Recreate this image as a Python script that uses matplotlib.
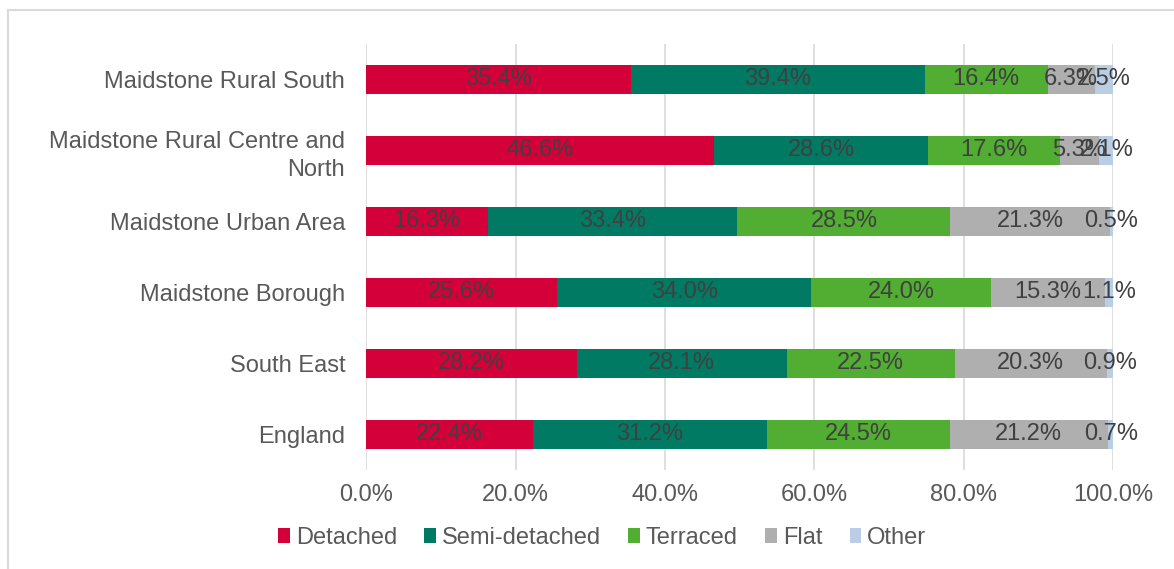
import numpy as np
import matplotlib.pyplot as plt
from matplotlib.patches import Rectangle

plt.rcParams['font.family'] = ['Liberation Sans', 'DejaVu Sans']

# Dwelling type shares (%) by area
areas = ["England", "South East", "Maidstone Borough", "Maidstone Urban Area",
         "Maidstone Rural Centre and\nNorth", "Maidstone Rural South"]
types = ["Detached", "Semi-detached", "Terraced", "Flat", "Other"]
detached = [22.4, 28.2, 25.6, 16.3, 46.6, 35.4]
semi = [31.2, 28.1, 34.0, 33.4, 28.6, 39.4]
terraced = [24.5, 22.5, 24.0, 28.5, 17.6, 16.4]
flat = [21.2, 20.3, 15.3, 21.3, 5.3, 6.3]
other = [0.7, 0.9, 1.1, 0.5, 2.1, 2.5]
colors = ["#D4003A", "#007A63", "#52AE32", "#AFAFAF", "#B9CDE5"]

series = [detached, semi, terraced, flat, other]
fs = 17

fig = plt.figure(figsize=(11.74, 5.69), dpi=100)
ax = fig.add_axes([0.3118, 0.174, 0.6365, 0.7487])

# light grey frame round the chart
fig.patches.append(Rectangle((8 / 1174, -0.1), 1.2, 1 - 10 / 569 + 0.1,
                             transform=fig.transFigure, fill=False,
                             edgecolor="#D9D9D9", linewidth=1.5))

y = np.arange(len(areas))
left = np.zeros(len(areas))
for name, vals, col in zip(types, series, colors):
    vals = np.array(vals)
    ax.barh(y, vals, left=left, height=0.4, color=col, label=name, zorder=3)
    for yi, l, v in zip(y, left, vals):
        ax.text(l + v / 2, yi, f"{v:.1f}%", ha="center", va="center",
                fontsize=fs, color="#404040", zorder=4)
    left += vals

ax.set_xlim(0, 100)
ax.set_ylim(-0.5, len(areas) - 0.5)
ax.set_xticks(np.arange(0, 101, 20))
ax.set_xticklabels([f"{t:.1f}%" for t in np.arange(0, 101, 20)])
ax.set_yticks(y)
ax.set_yticklabels(areas, linespacing=1.35)
ax.grid(axis="x", color="#D9D9D9", linewidth=1.2, zorder=0)
for s in ax.spines.values():
    s.set_visible(False)
ax.tick_params(length=0, labelsize=fs, colors="#595959")
ax.tick_params(axis="x", pad=10)
ax.tick_params(axis="y", pad=15)

fig.legend(*ax.get_legend_handles_labels(), loc="center",
           bbox_to_anchor=(0.513, 1 - 538 / 569),
           ncol=5, frameon=False, fontsize=fs, handlelength=0.5, handleheight=0.6,
           handletextpad=0.25, columnspacing=1.15, labelcolor="#595959")

fig.savefig("out.png", dpi=100)
